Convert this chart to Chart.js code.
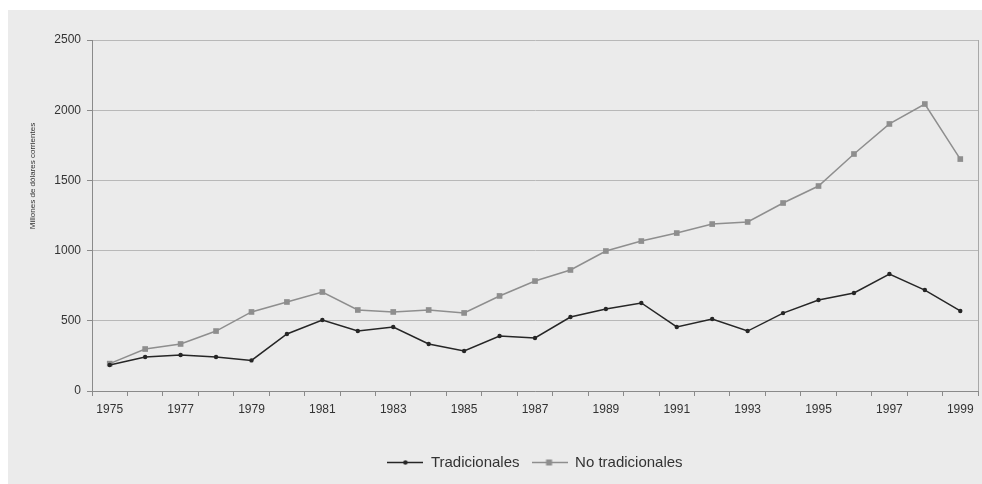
<!DOCTYPE html>
<html>
<head>
<meta charset="utf-8">
<script src="https://cdn.jsdelivr.net/npm/chart.js@4/dist/chart.umd.min.js"></script>
<style>
  html, body { margin: 0; padding: 0; background: #ffffff; }
  #wrap { position: absolute; left: 8px; top: 10px; width: 974px; height: 474px; background: #ebebeb; }
  canvas { display: block; }
</style>
</head>
<body>
<div id="wrap"><canvas id="c" width="974" height="474"></canvas></div>
<script>
// Exportaciones, millones de dólares corrientes
const years = ['1975','1976','1977','1978','1979','1980','1981','1982','1983','1984','1985','1986',
               '1987','1988','1989','1990','1991','1992','1993','1994','1995','1996','1997','1998','1999'];
const tradicionales = [185, 242, 256, 242, 218, 406, 506, 427, 456, 335, 285, 392,
                       378, 527, 584, 627, 456, 513, 427, 555, 648, 698, 833, 719, 570];
const noTradicionales = [195, 299, 335, 427, 563, 634, 705, 577, 563, 577, 556, 677,
                         783, 862, 997, 1068, 1125, 1189, 1204, 1339, 1460, 1688, 1902, 2044, 1652];
const yTicks = [0, 500, 1000, 1500, 2000, 2500];
const seriesNames = ['Tradicionales', 'No tradicionales'];
const yTitle = 'Millones de dólares corrientes';

const FONT = "'Liberation Sans', Arial, sans-serif";
const TRAD_COLOR = '#262626';
const NOTRAD_COLOR = '#8e8e8e';

// Legend symbol: a short line with the series marker in the middle
function legendSymbol(color, marker) {
  const cv = document.createElement('canvas');
  cv.width = 36; cv.height = 9;
  const g = cv.getContext('2d');
  g.strokeStyle = color; g.lineWidth = 1.5;
  g.beginPath(); g.moveTo(0, 4.5); g.lineTo(36, 4.5); g.stroke();
  g.fillStyle = color;
  if (marker === 'rect') { g.fillRect(14.5, 1.5, 6, 6); }
  else { g.beginPath(); g.arc(18, 4.5, 2.2, 0, Math.PI * 2); g.fill(); }
  return cv;
}
const symbols = [legendSymbol(TRAD_COLOR, 'circle'), legendSymbol(NOTRAD_COLOR, 'rect')];

// Right edge of the plot frame and the rotated value-axis title
const framePlugin = {
  id: 'frame',
  afterDraw(chart) {
    const { ctx, chartArea: a } = chart;
    ctx.save();
    ctx.strokeStyle = '#a8a8a8';
    ctx.lineWidth = 1;
    ctx.beginPath();
    ctx.moveTo(Math.round(a.right) + 0.5, a.top);
    ctx.lineTo(Math.round(a.right) + 0.5, a.bottom);
    ctx.stroke();
    ctx.translate(25, 166);
    ctx.rotate(-Math.PI / 2);
    ctx.fillStyle = '#333';
    ctx.font = '8px ' + FONT;
    ctx.textAlign = 'center';
    ctx.textBaseline = 'middle';
    ctx.fillText(yTitle, 0, 0);
    ctx.restore();
  }
};

new Chart(document.getElementById('c'), {
  type: 'line',
  data: {
    labels: years,
    datasets: [
      {
        label: seriesNames[0],
        data: tradicionales,
        borderColor: TRAD_COLOR,
        backgroundColor: TRAD_COLOR,
        borderWidth: 1.5,
        pointStyle: 'circle',
        pointRadius: 2.2,
        pointBorderWidth: 0,
        tension: 0
      },
      {
        label: seriesNames[1],
        data: noTradicionales,
        borderColor: NOTRAD_COLOR,
        backgroundColor: NOTRAD_COLOR,
        borderWidth: 1.5,
        pointStyle: 'rect',
        pointRadius: 4,
        pointBorderWidth: 0,
        tension: 0
      }
    ]
  },
  options: {
    responsive: false,
    animation: false,
    layout: { padding: { top: 30, right: 4, left: 0, bottom: 4 } },
    plugins: {
      tooltip: { enabled: false },
      legend: {
        position: 'bottom',
        fullSize: false,
        labels: {
          usePointStyle: true,
          pointStyleWidth: 36,
          padding: 12,
          color: '#333',
          font: { family: FONT, size: 15 },
          generateLabels(chart) {
            return chart.data.datasets.map((ds, i) => ({
              text: ds.label,
              pointStyle: symbols[i],
              fillStyle: ds.borderColor,
              strokeStyle: ds.borderColor,
              lineWidth: 0,
              hidden: false,
              datasetIndex: i,
              fontColor: '#333'
            }));
          }
        }
      }
    },
    scales: {
      x: {
        type: 'category',
        offset: true,
        grid: { display: true, drawOnChartArea: false, drawTicks: true, tickLength: 5, color: '#8a8a8a', offset: true },
        border: { display: true, color: '#8a8a8a', width: 1 },
        ticks: {
          autoSkip: false, maxRotation: 0, padding: 6,
          color: '#333', font: { family: FONT, size: 12 },
          callback(value, index) { return index % 2 === 0 ? years[index] : ''; }
        },
        afterFit(s) { s.height = 52; }
      },
      y: {
        min: 0, max: 2500,
        afterBuildTicks(s) { s.ticks = yTicks.map(v => ({ value: v })); },
        grid: { color: '#b8b8b8', lineWidth: 1, tickLength: 5, tickColor: '#8a8a8a' },
        border: { display: true, color: '#8a8a8a', width: 1 },
        ticks: {
          padding: 6, color: '#333', font: { family: FONT, size: 12 },
          callback(value) { return String(value); }
        },
        afterFit(s) { s.width = 84; }
      }
    }
  },
  plugins: [framePlugin]
});
</script>
</body>
</html>
